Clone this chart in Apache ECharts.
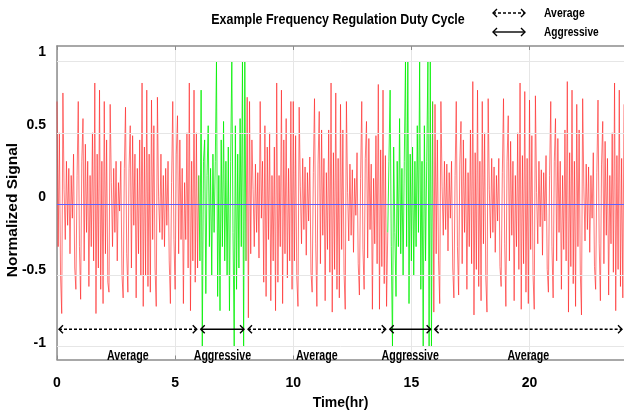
<!DOCTYPE html>
<html>
<head>
<meta charset="utf-8">
<script src="https://cdn.jsdelivr.net/npm/echarts@6/dist/echarts.min.js"></script>
<style>html,body{margin:0;padding:0;background:#fff;}#c{width:624px;height:416px;}</style>
</head>
<body>
<div id="c"></div>
<script>
const sampleStep = 0.05;
// t = 0.00 .. 5.95 (Average)
const average1 = [
  0.72,-0.30,0.50,-0.50,-0.77,0.78,0.10,-0.25,0.30,-0.15,0.25,-0.35,0.20,-0.10,0.35,-0.45,-0.60,0.20,0.72,-0.30,
  -0.67,0.30,0.60,-0.40,0.42,-0.20,0.30,-0.58,0.20,-0.30,0.50,-0.40,0.85,-0.77,0.35,-0.45,0.80,-0.60,0.30,-0.70,
  0.72,-0.35,0.45,-0.55,-0.62,0.70,0.15,-0.30,0.25,-0.20,0.30,-0.40,0.15,-0.05,0.30,-0.50,-0.66,0.25,0.68,-0.35,
  -0.62,0.25,0.55,-0.45,0.48,-0.15,0.35,-0.66,0.25,-0.35,0.45,-0.50,0.85,-0.72,0.40,-0.50,0.80,-0.58,0.35,-0.62,
  0.73,-0.25,0.55,-0.45,-0.72,0.75,0.05,-0.20,0.35,-0.25,0.20,-0.30,0.25,-0.15,0.30,-0.40,-0.70,0.15,0.72,-0.25,
  -0.60,0.35,0.62,-0.35,0.45,-0.25,0.25,-0.70,0.15,-0.25,0.50,-0.45,0.85,-0.75,0.30,-0.40,0.80,-0.55,0.50,-0.45
];
// t = 6.00 .. 7.95 (Aggressive)
const aggressive1 = [
  0.20,-0.40,0.80,-1.00,0.30,0.45,-0.63,0.20,0.55,-0.30,0.25,-0.50,0.35,-0.20,0.30,1.00,-0.65,0.20,-0.75,0.45,
  -0.30,0.58,-0.40,0.30,-0.50,0.40,-0.75,0.30,1.00,-0.20,-1.00,0.55,-0.60,0.35,-0.45,0.60,-0.30,1.00,-1.00,1.00
];
// t = 8.00 .. 13.95 (Average)
const average2 = [
  -0.40,0.75,-0.80,0.72,-0.35,0.45,0.10,-0.30,0.28,-0.20,0.22,-0.38,0.72,-0.10,0.30,-0.55,0.55,-0.65,0.40,-0.25,
  0.50,-0.68,0.20,-0.40,0.40,-0.75,0.85,-0.55,0.20,-0.30,0.80,-0.70,0.45,-0.35,0.60,-0.52,0.25,-0.40,0.72,-0.60,
  0.72,-0.40,0.48,-0.52,-0.72,0.68,0.12,-0.28,0.32,-0.18,0.26,-0.36,0.22,-0.12,0.33,-0.48,-0.62,0.22,0.74,-0.28,
  -0.72,0.28,0.65,-0.42,0.52,-0.22,0.32,-0.68,0.22,-0.32,0.52,-0.48,0.85,-0.76,0.36,-0.46,0.78,-0.60,0.32,-0.66,
  0.70,-0.32,0.52,-0.48,-0.74,0.72,0.08,-0.26,0.28,-0.22,0.24,-0.34,0.18,-0.08,0.36,-0.42,-0.64,0.18,0.72,-0.32,
  -0.60,0.32,0.58,-0.38,0.46,-0.18,0.28,-0.74,0.18,-0.28,0.48,-0.42,0.84,-0.74,0.38,-0.44,0.80,-0.56,0.34,-0.72
];
// t = 14.00 .. 15.85 (Aggressive)
const aggressive2 = [
  -0.20,0.30,0.80,-0.30,-1.00,0.40,-0.20,-0.65,0.30,-0.30,0.60,-0.35,0.25,-0.50,0.30,1.00,-0.30,1.00,-0.70,0.35,
  -0.40,0.40,-0.50,0.30,-0.30,0.55,-0.20,1.00,-0.60,0.30,-1.00,0.55,-0.40,0.30,1.00,-1.00,1.00,-1.00
];
// t = 15.90 .. 24.00 (Average)
const average3 = [
  0.72,-0.76,
  0.70,-0.35,0.45,-0.40,-0.70,0.72,0.12,-0.22,0.30,-0.18,0.28,-0.33,0.22,-0.10,0.30,-0.45,-0.66,0.20,0.72,-0.30,
  -0.64,0.28,0.58,-0.42,0.45,-0.20,0.32,-0.60,0.22,-0.30,0.52,-0.42,0.86,-0.78,0.36,-0.46,0.80,-0.58,0.30,-0.68,
  0.72,-0.28,0.50,-0.52,-0.76,0.74,0.10,-0.24,0.32,-0.20,0.26,-0.34,0.20,-0.12,0.32,-0.44,-0.58,0.22,0.74,-0.28,
  -0.72,0.30,0.62,-0.40,0.44,-0.22,0.30,-0.68,0.20,-0.30,0.50,-0.46,0.85,-0.74,0.34,-0.42,0.79,-0.62,0.32,-0.70,
  0.73,-0.32,0.48,-0.50,-0.74,0.76,0.08,-0.28,0.30,-0.16,0.24,-0.36,0.22,-0.12,0.34,-0.46,-0.62,0.20,0.72,-0.30,
  -0.66,0.30,0.60,-0.40,0.46,-0.20,0.30,-0.60,0.20,-0.32,0.52,-0.40,0.86,-0.76,0.36,-0.44,0.80,-0.56,0.30,-0.72,
  0.70,-0.30,0.52,-0.48,-0.78,0.74,0.12,-0.26,0.28,-0.18,0.26,-0.34,0.20,-0.10,0.36,-0.44,-0.60,0.22,0.73,-0.28,
  -0.68,0.28,0.58,-0.42,0.44,-0.22,0.32,-0.64,0.20,-0.28,0.50,-0.48,0.85,-0.75,0.34,-0.46,0.80,-0.58,0.32,-0.66,
  0.70
];
const segStart = [0, 6, 8, 14, 15.9];
const segEnd   = [6, 8, 14, 15.9, 24];
const segMode  = ['Average', 'Aggressive', 'Average', 'Aggressive', 'Average'];
const yTickLabels = [-1, -0.5, 0, 0.5, 1];
const yGridValues = [-1, -0.5, 0.5, 1];
const titleText = 'Example Frequency Regulation Duty Cycle';
const xName = 'Time(hr)';
const yName = 'Normalized Signal';

// ---- styles ----
const FONT = '"Liberation Sans", Arial, sans-serif';
const arrowY = -0.88, labelY = -1.07;

const signal = [].concat(average1, aggressive1, average2, aggressive2, average3);
function modesAt(t) {
  const out = [];
  for (let i = 0; i < segStart.length; i++) if (t >= segStart[i] - 1e-9 && t <= segEnd[i] + 1e-9) out.push(segMode[i]);
  return out;
}
const redData = [], greenData = [];
signal.forEach((v, i) => {
  const t = Math.round(i * sampleStep * 100) / 100;
  const m = modesAt(t);
  redData.push([t, m.includes('Average') ? v : null]);
  greenData.push([t, m.includes('Aggressive') ? v : null]);
});
const segData = segStart.map((s, i) => [s, segEnd[i], segMode[i] === 'Average' ? 0 : 1]);

function arrowShapes(x1, x2, y, dashed) {
  const st = {stroke: '#000', lineWidth: 1.4, fill: null};
  return [
    {type: 'line', shape: {x1: x1, y1: y, x2: x2, y2: y}, style: Object.assign({}, st, {lineDash: dashed ? [3, 2] : null})},
    {type: 'polyline', shape: {points: [[x1 + 4, y - 4], [x1, y], [x1 + 4, y + 4]]}, style: st},
    {type: 'polyline', shape: {points: [[x2 - 4, y - 4], [x2, y], [x2 - 4, y + 4]]}, style: st}
  ];
}

const chart = echarts.init(document.getElementById('c'), null, {renderer: 'canvas'});
chart.setOption({
  animation: false,
  backgroundColor: '#fff',
  grid: {left: 57, top: 46, width: 569, height: 313.5, containLabel: false},
  xAxis: [{
    type: 'value', min: 0, max: 24, interval: 5, position: 'bottom',
    axisLine: {show: true, onZero: false, lineStyle: {color: '#8c8c8c', width: 1.5}},
    axisTick: {show: true, inside: true, length: 4, lineStyle: {color: '#8c8c8c'}},
    axisLabel: {color: '#000', fontSize: 14, margin: 17, fontFamily: FONT, fontWeight: 'bold', showMaxLabel: false},
    splitLine: {show: true, lineStyle: {color: '#e6e6e6', width: 1}},
    name: xName, nameLocation: 'middle', nameGap: 37,
    nameTextStyle: {color: '#000', fontSize: 14, fontWeight: 'bold', fontFamily: FONT}
  }, {
    type: 'value', min: 0, max: 24, interval: 5, position: 'top',
    axisLine: {show: true, onZero: false, lineStyle: {color: '#8c8c8c', width: 1.5}},
    axisTick: {show: true, inside: true, length: 4, lineStyle: {color: '#8c8c8c'}},
    axisLabel: {show: false}, splitLine: {show: false}
  }],
  yAxis: [{
    type: 'value', min: -1.093, max: 1.11, position: 'left',
    axisLine: {show: true, onZero: false, lineStyle: {color: '#8c8c8c', width: 1.5}},
    axisTick: {show: false}, axisLabel: {show: false}, splitLine: {show: false}
  }, {
    type: 'value', min: -1.112, max: 1.041, position: 'left',
    axisLine: {show: false, onZero: false}, axisTick: {show: false}, splitLine: {show: false},
    axisLabel: {show: true, customValues: yTickLabels, color: '#000', fontSize: 14, margin: 11, fontFamily: FONT, fontWeight: 'bold'}
  }],
  graphic: [
    {type: 'text', x: 338, y: 20, scaleX: 0.89, style: {text: titleText, fill: '#000', font: 'bold 14px ' + FONT, align: 'center', verticalAlign: 'middle'}},
    {type: 'text', x: 13, y: 210, rotation: Math.PI / 2, style: {text: yName, fill: '#000', font: 'bold 15.5px ' + FONT, align: 'center', verticalAlign: 'middle'}},
    {type: 'group', x: 491, y: 8, children: arrowShapes(2, 34, 5, true)},
    {type: 'group', x: 491, y: 27, children: arrowShapes(2, 34, 5, false)},
    {type: 'text', x: 544, y: 13, scaleX: 0.8, style: {text: 'Average', fill: '#000', font: 'bold 13px ' + FONT, align: 'left', verticalAlign: 'middle'}},
    {type: 'text', x: 544, y: 32, scaleX: 0.78, style: {text: 'Aggressive', fill: '#000', font: 'bold 13px ' + FONT, align: 'left', verticalAlign: 'middle'}}
  ],
  series: [{
    type: 'line', xAxisIndex: 0, yAxisIndex: 0, data: [], z: 1, silent: true,
    markLine: {silent: true, symbol: 'none', label: {show: false},
      lineStyle: {color: '#e6e6e6', width: 1, type: 'solid'},
      data: yGridValues.map(v => ({yAxis: v}))}
  }, {
    type: 'line', xAxisIndex: 0, yAxisIndex: 0, data: redData, showSymbol: false, z: 2,
    lineStyle: {color: '#ff2020', width: 1, opacity: 0.62}, connectNulls: false
  }, {
    type: 'line', xAxisIndex: 0, yAxisIndex: 0, data: greenData, showSymbol: false, z: 3,
    lineStyle: {color: '#00f000', width: 1, opacity: 0.8}, connectNulls: false
  }, {
    type: 'line', xAxisIndex: 0, yAxisIndex: 0, data: [], z: 4, silent: true,
    markLine: {silent: true, symbol: 'none', label: {show: false},
      lineStyle: {color: '#6060ff', width: 1, type: 'solid'},
      data: [{yAxis: 0}]}
  }, {
    type: 'custom', xAxisIndex: 0, yAxisIndex: 0, data: segData, z: 5, clip: false,
    renderItem: function (params, api) {
      const s = api.value(0), e = api.value(1), dashed = api.value(2) === 0;
      const p1 = api.coord([s, arrowY]), p2 = api.coord([e, arrowY]);
      const pl = api.coord([(s + e) / 2, labelY]);
      const children = arrowShapes(p1[0] + 2, p2[0] - 2, p1[1], dashed);
      children.push({type: 'text', x: pl[0], y: pl[1], scaleX: 0.76,
        style: {text: segMode[params.dataIndex], x: 0, y: 0,
        align: 'center', verticalAlign: 'middle', fill: '#000', font: 'bold 14px ' + FONT}});
      return {type: 'group', children: children};
    }
  }]
});
</script>
</body>
</html>
